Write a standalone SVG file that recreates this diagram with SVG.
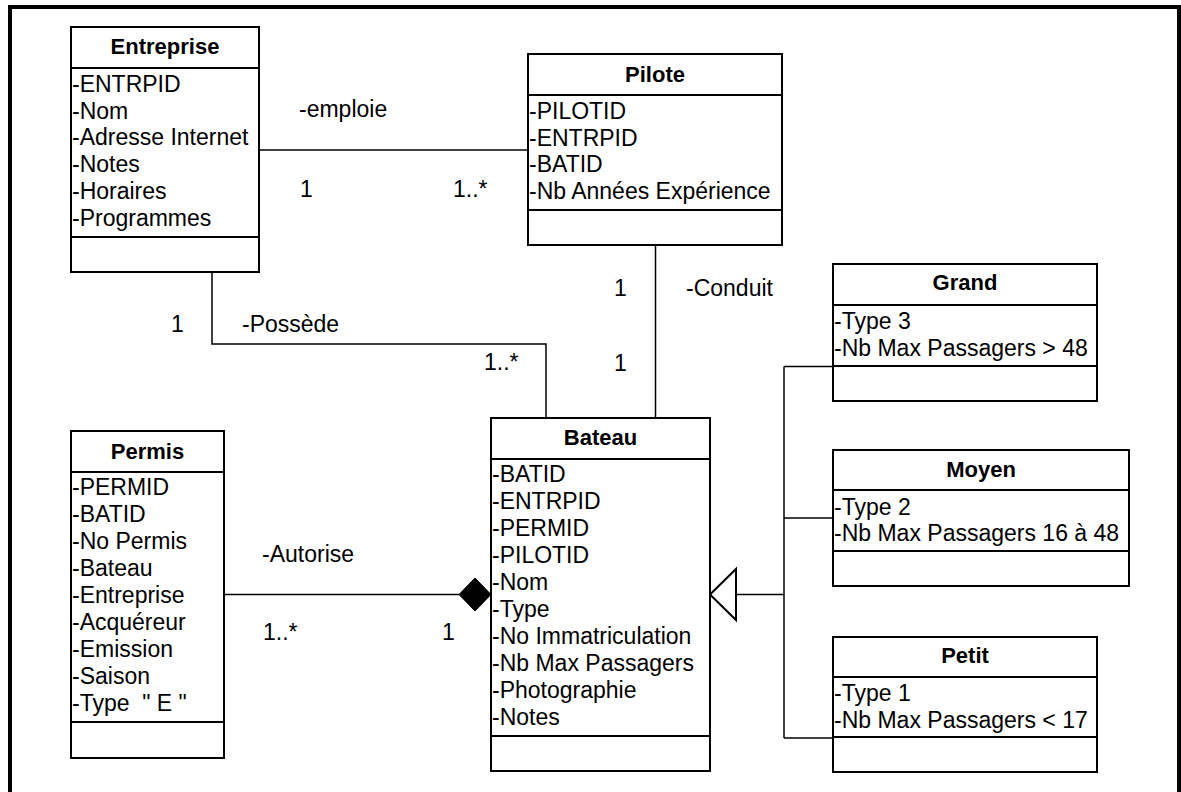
<svg xmlns="http://www.w3.org/2000/svg" width="1181" height="792" viewBox="0 0 1181 792">
  <defs>
    <style>
      .box { fill: #fff; stroke: #000; stroke-width: 2; }
      .sep { stroke: #000; stroke-width: 2; }
      .title { font-family: "Liberation Sans", Arial, sans-serif; font-size: 22px; font-weight: bold; text-anchor: middle; fill: #000; }
      .attr { font-family: "Liberation Sans", Arial, sans-serif; font-size: 23px; fill: #000; }
      .lbl { font-family: "Liberation Sans", Arial, sans-serif; font-size: 23px; fill: #000; }
      .conn { fill: none; stroke: #000; stroke-width: 1.5; }
    </style>
  </defs>
  <rect width="1181" height="792" fill="#fff"/>

  <!-- outer frame (bottom edge runs past the page) -->
  <path d="M10,800 V7 H1179 V800" fill="none" stroke="#000" stroke-width="4"/>

  <!-- connectors -->
  <g id="connectors">
    <!-- Entreprise - Pilote -->
    <line class="conn" x1="259" y1="150" x2="528" y2="150"/>
    <text class="lbl" x="299" y="117">-emploie</text>
    <text class="lbl" x="300" y="197">1</text>
    <text class="lbl" x="453" y="197">1..*</text>

    <!-- Entreprise - Bateau -->
    <polyline class="conn" points="212,272 212,344 546,344 546,418"/>
    <text class="lbl" x="171" y="332">1</text>
    <text class="lbl" x="242" y="332">-Possède</text>
    <text class="lbl" x="484" y="370">1..*</text>

    <!-- Pilote - Bateau -->
    <line class="conn" x1="655.5" y1="245" x2="655.5" y2="418"/>
    <text class="lbl" x="614" y="296">1</text>
    <text class="lbl" x="686" y="296">-Conduit</text>
    <text class="lbl" x="614" y="371">1</text>

    <!-- Permis - Bateau (composition) -->
    <line class="conn" x1="224" y1="594.5" x2="459" y2="594.5"/>
    <polygon points="491,594.5 475,578 459,594.5 475,611" fill="#000" stroke="#000" stroke-width="1"/>
    <text class="lbl" x="262" y="562">-Autorise</text>
    <text class="lbl" x="263" y="640">1..*</text>
    <text class="lbl" x="442" y="640">1</text>

    <!-- generalisation Grand / Moyen / Petit -> Bateau -->
    <polygon points="710,594.5 736,569 736,620" fill="#fff" stroke="#000" stroke-width="2"/>
    <line class="conn" x1="736" y1="594.5" x2="784" y2="594.5"/>
    <line class="conn" x1="784" y1="366.5" x2="784" y2="738"/>
    <line class="conn" x1="784" y1="366.5" x2="833" y2="366.5"/>
    <line class="conn" x1="784" y1="518" x2="833" y2="518"/>
    <line class="conn" x1="784" y1="738" x2="833" y2="738"/>
  </g>

  <!-- Entreprise -->
  <g id="entreprise">
    <rect class="box" x="71" y="27" width="188" height="245"/>
    <line class="sep" x1="71" y1="68" x2="259" y2="68"/>
    <line class="sep" x1="71" y1="237" x2="259" y2="237"/>
    <text class="title" x="165" y="54">Entreprise</text>
    <text class="attr" x="72" y="92">-ENTRPID</text>
    <text class="attr" x="72" y="118.7">-Nom</text>
    <text class="attr" x="72" y="145.4">-Adresse Internet</text>
    <text class="attr" x="72" y="172.1">-Notes</text>
    <text class="attr" x="72" y="198.8">-Horaires</text>
    <text class="attr" x="72" y="225.5">-Programmes</text>
  </g>

  <!-- Pilote -->
  <g id="pilote">
    <rect class="box" x="528" y="54" width="254" height="191"/>
    <line class="sep" x1="528" y1="95" x2="782" y2="95"/>
    <line class="sep" x1="528" y1="210" x2="782" y2="210"/>
    <text class="title" x="655" y="82">Pilote</text>
    <text class="attr" x="529" y="119">-PILOTID</text>
    <text class="attr" x="529" y="145.7">-ENTRPID</text>
    <text class="attr" x="529" y="172.4">-BATID</text>
    <text class="attr" x="529" y="199">-Nb Années Expérience</text>
  </g>

  <!-- Bateau -->
  <g id="bateau">
    <rect class="box" x="491" y="418" width="219" height="353"/>
    <line class="sep" x1="491" y1="459" x2="710" y2="459"/>
    <line class="sep" x1="491" y1="736" x2="710" y2="736"/>
    <text class="title" x="600.5" y="445">Bateau</text>
    <text class="attr" x="492" y="482">-BATID</text>
    <text class="attr" x="492" y="509">-ENTRPID</text>
    <text class="attr" x="492" y="536">-PERMID</text>
    <text class="attr" x="492" y="563">-PILOTID</text>
    <text class="attr" x="492" y="590">-Nom</text>
    <text class="attr" x="492" y="617">-Type</text>
    <text class="attr" x="492" y="644">-No Immatriculation</text>
    <text class="attr" x="492" y="671">-Nb Max Passagers</text>
    <text class="attr" x="492" y="698">-Photographie</text>
    <text class="attr" x="492" y="725">-Notes</text>
  </g>

  <!-- Permis -->
  <g id="permis">
    <rect class="box" x="71" y="431" width="153" height="327"/>
    <line class="sep" x1="71" y1="472" x2="224" y2="472"/>
    <line class="sep" x1="71" y1="722" x2="224" y2="722"/>
    <text class="title" x="147.5" y="459">Permis</text>
    <text class="attr" x="72" y="495">-PERMID</text>
    <text class="attr" x="72" y="522">-BATID</text>
    <text class="attr" x="72" y="549">-No Permis</text>
    <text class="attr" x="72" y="576">-Bateau</text>
    <text class="attr" x="72" y="603">-Entreprise</text>
    <text class="attr" x="72" y="630">-Acquéreur</text>
    <text class="attr" x="72" y="657">-Emission</text>
    <text class="attr" x="72" y="684">-Saison</text>
    <text class="attr" x="72" y="711" xml:space="preserve">-Type  " E "</text>
  </g>

  <!-- Grand -->
  <g id="grand">
    <rect class="box" x="833" y="264" width="264" height="137"/>
    <line class="sep" x1="833" y1="305" x2="1097" y2="305"/>
    <line class="sep" x1="833" y1="366" x2="1097" y2="366"/>
    <text class="title" x="965" y="290">Grand</text>
    <text class="attr" x="834" y="329">-Type 3</text>
    <text class="attr" x="834" y="355.7">-Nb Max Passagers &gt; 48</text>
  </g>

  <!-- Moyen -->
  <g id="moyen">
    <rect class="box" x="833" y="450" width="296" height="136"/>
    <line class="sep" x1="833" y1="490" x2="1129" y2="490"/>
    <line class="sep" x1="833" y1="551" x2="1129" y2="551"/>
    <text class="title" x="981" y="477">Moyen</text>
    <text class="attr" x="834" y="514.5">-Type 2</text>
    <text class="attr" x="834" y="541">-Nb Max Passagers 16 à 48</text>
  </g>

  <!-- Petit -->
  <g id="petit">
    <rect class="box" x="833" y="637" width="264" height="135"/>
    <line class="sep" x1="833" y1="677" x2="1097" y2="677"/>
    <line class="sep" x1="833" y1="737" x2="1097" y2="737"/>
    <text class="title" x="965" y="663">Petit</text>
    <text class="attr" x="834" y="701">-Type 1</text>
    <text class="attr" x="834" y="727.7">-Nb Max Passagers &lt; 17</text>
  </g>
</svg>
